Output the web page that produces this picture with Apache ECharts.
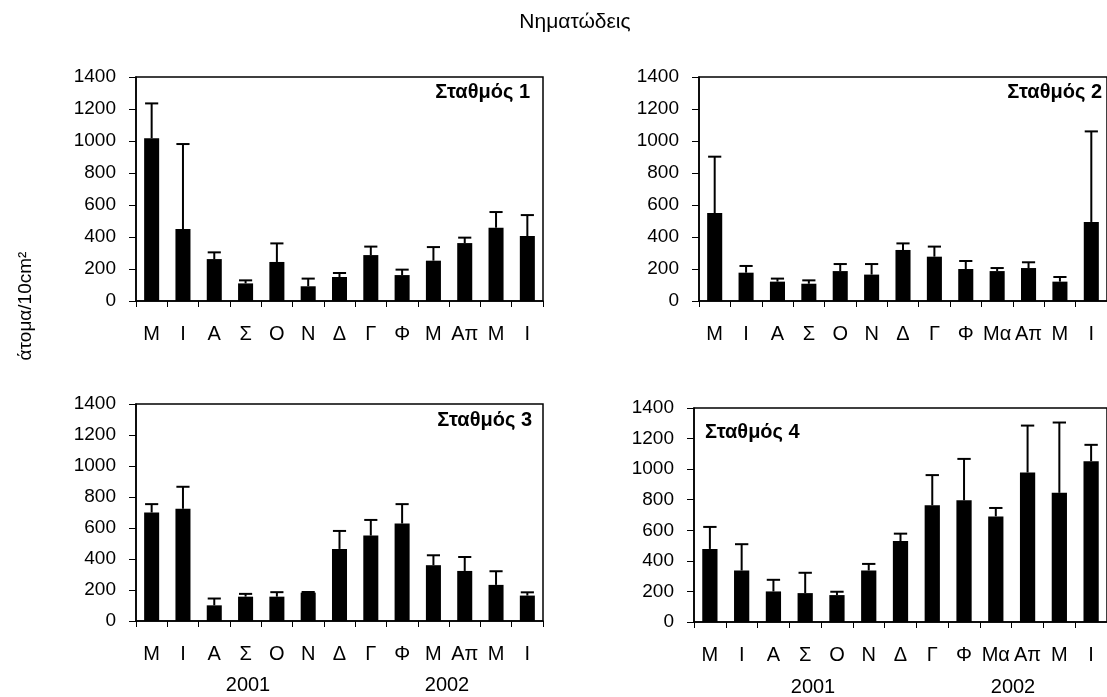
<!DOCTYPE html>
<html>
<head>
<meta charset="utf-8">
<script src="https://cdn.jsdelivr.net/npm/echarts@6/dist/echarts.min.js"></script>
<style>
  html, body { margin: 0; padding: 0; background: #fff; }
  #chart { width: 1107px; height: 697px; }
</style>
</head>
<body>
<div id="chart"></div>
<script>
// Month labels (May 2001 – June 2002)
const monthsA = ['Μ', 'Ι', 'Α', 'Σ', 'Ο', 'Ν', 'Δ', 'Γ', 'Φ', 'Μ', 'Απ', 'Μ', 'Ι'];
const monthsB = ['Μ', 'Ι', 'Α', 'Σ', 'Ο', 'Ν', 'Δ', 'Γ', 'Φ', 'Μα', 'Απ', 'Μ', 'Ι'];

// Mean density (individuals / 10 cm²) and standard deviation per station
const st1Mean = [1017, 450, 262, 110, 244, 92, 150, 287, 162, 252, 362, 458, 406];
const st1Err  = [218, 531, 42, 19, 116, 48, 25, 53, 34, 85, 34, 98, 131];

const st2Mean = [550, 177, 121, 108, 187, 165, 319, 277, 200, 187, 206, 121, 494];
const st2Err  = [352, 42, 19, 21, 44, 66, 41, 63, 50, 19, 36, 29, 566];

const st3Mean = [700, 724, 101, 157, 157, 183, 465, 551, 629, 360, 323, 233, 164];
const st3Err  = [54, 142, 44, 18, 29, 4, 116, 101, 125, 64, 90, 88, 21];

const st4Mean = [478, 337, 200, 189, 176, 337, 530, 763, 796, 691, 978, 845, 1052];
const st4Err  = [144, 172, 76, 133, 22, 43, 48, 198, 271, 55, 307, 460, 107];

const yTicks = { min: 0, max: 1400, interval: 200 };
const stationNames = ['Σταθμός 1', 'Σταθμός 2', 'Σταθμός 3', 'Σταθμός 4'];
const years = ['2001', '2002'];

const FONT = '"Liberation Sans", Arial, sans-serif';

const panels = [
  { mean: st1Mean, err: st1Err, cats: monthsA, grid: { left: 136, top: 77, width: 407, height: 224 } },
  { mean: st2Mean, err: st2Err, cats: monthsB, grid: { left: 699, top: 77, width: 411, height: 224 } },
  { mean: st3Mean, err: st3Err, cats: monthsA, grid: { left: 136, top: 404, width: 407, height: 217 } },
  { mean: st4Mean, err: st4Err, cats: monthsB, grid: { left: 694, top: 408, width: 416, height: 214 } }
];

// Upper error bar with a horizontal cap
function renderErr(params, api) {
  const x = api.value(0), m = api.value(1), e = api.value(2);
  const p0 = api.coord([x, m]);
  const p1 = api.coord([x, m + e]);
  const half = api.size([1, 0])[0] * 0.21;
  const st = { stroke: '#000', lineWidth: 2 };
  return {
    type: 'group',
    children: [
      { type: 'line', shape: { x1: p0[0], y1: p0[1], x2: p1[0], y2: p1[1] }, style: st },
      { type: 'line', shape: { x1: p1[0] - half, y1: p1[1], x2: p1[0] + half, y2: p1[1] }, style: st }
    ]
  };
}

const grids = [], xAxes = [], yAxes = [], series = [];
panels.forEach((p, i) => {
  grids.push(Object.assign({ show: true, borderColor: '#000', borderWidth: 1.5, backgroundColor: 'transparent' }, p.grid));
  xAxes.push({
    type: 'category', gridIndex: i, data: p.cats, boundaryGap: true,
    axisLine: { lineStyle: { color: '#000', width: 1.5 } },
    axisTick: { show: true, interval: 0, length: 6, lineStyle: { color: '#000', width: 1 } },
    axisLabel: { interval: 0, color: '#000', fontFamily: FONT, fontSize: 20, margin: 23 }
  });
  yAxes.push({
    type: 'value', gridIndex: i, min: yTicks.min, max: yTicks.max, interval: yTicks.interval,
    splitLine: { show: false },
    axisLine: { show: true, lineStyle: { color: '#000', width: 1.5 } },
    axisTick: { show: true, length: 7, lineStyle: { color: '#000', width: 1 } },
    axisLabel: { color: '#000', fontFamily: FONT, fontSize: 19, margin: 20, formatter: v => String(v) }
  });
  series.push({
    type: 'bar', xAxisIndex: i, yAxisIndex: i, data: p.mean,
    barWidth: '48%', itemStyle: { color: '#000' }, silent: true
  });
  series.push({
    type: 'custom', xAxisIndex: i, yAxisIndex: i, z: 5, silent: true,
    renderItem: renderErr,
    encode: { x: 0, y: 1 },
    data: p.mean.map((m, k) => [k, m, p.err[k]])
  });
});

const txt = (x, y, text, opts) => ({
  type: 'text', x, y, silent: true,
  style: Object.assign({
    text, fill: '#000', font: '20px ' + FONT,
    align: 'center', verticalAlign: 'middle', textAlign: 'center', textVerticalAlign: 'middle'
  }, opts || {})
});

const graphics = [
  txt(575, 22, 'Νηματώδεις', { font: '21px ' + FONT }),
  Object.assign(txt(26, 306, 'άτομα/10cm²', { font: '19px ' + FONT }), { rotation: Math.PI / 2 }),
  txt(530, 92, stationNames[0], { font: 'bold 20px ' + FONT, align: 'right', textAlign: 'right' }),
  txt(1102, 92, stationNames[1], { font: 'bold 20px ' + FONT, align: 'right', textAlign: 'right' }),
  txt(532, 420, stationNames[2], { font: 'bold 20px ' + FONT, align: 'right', textAlign: 'right' }),
  txt(705, 432, stationNames[3], { font: 'bold 20px ' + FONT, align: 'left', textAlign: 'left' }),
  txt(248, 685, years[0]),
  txt(447, 685, years[1]),
  txt(813, 687, years[0]),
  txt(1013, 687, years[1])
];

const chart = echarts.init(document.getElementById('chart'), null, { renderer: 'canvas' });
chart.setOption({
  animation: false,
  backgroundColor: '#fff',
  grid: grids,
  xAxis: xAxes,
  yAxis: yAxes,
  series: series,
  graphic: graphics
});
</script>
</body>
</html>
